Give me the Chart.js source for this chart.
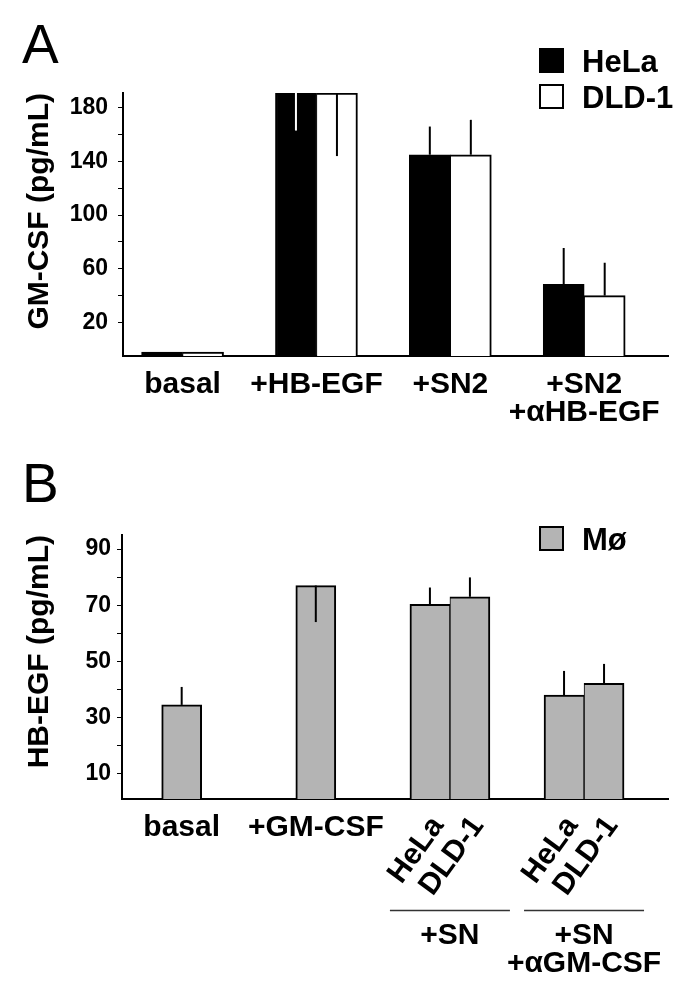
<!DOCTYPE html>
<html>
<head>
<meta charset="utf-8">
<script src="https://cdn.jsdelivr.net/npm/chart.js@4.4.1/dist/chart.umd.min.js"></script>
<style>
  body { margin: 0; background: #fff; width: 685px; height: 991px; position: relative; overflow: hidden; }
  canvas { position: absolute; left: 0; }
  #chartA { top: 0; }
  #chartB { top: 455px; }
</style>
</head>
<body>
<canvas id="chartA" width="685" height="455"></canvas>
<canvas id="chartB" width="685" height="536"></canvas>
<script>
// Panel A: GM-CSF from tumour cells
const groupX = [0, 1, 2, 3];
const groupsA = ["basal", "+HB-EGF", "+SN2", ["+SN2", "+αHB-EGF"]];
const helaA = [-2, 191, 145, 48.5];
const helaErrA = [0, -28, 21, 27];      // negative = line drawn down into the bar
const dldA = [-2, 191, 145, 40];
const dldErrA = [0, -47, 26, 24.5];
const yTicksA = [20, 40, 60, 80, 100, 120, 140, 160, 180];
const yLabelsA = [20, 60, 100, 140, 180];

// Panel B: HB-EGF from macrophages
const groupsB = ["basal", "+GM-CSF", "", ""];
const cellsB = ["HeLa", "DLD-1"];
const supernatantB = [null, null, ["+SN"], ["+SN", "+αGM-CSF"]];
const mphLeft = [34.5, 77, 70.3, 38];
const mphLeftErr = [6.4, -13, 6, 8.6];
const mphRight = [null, null, 73, 42.2];
const mphRightErr = [null, null, 6.9, 6.9];
const yTicksB = [10, 20, 30, 40, 50, 60, 70, 80, 90];
const yLabelsB = [10, 30, 50, 70, 90];

const FONT = '"Liberation Sans", Arial, Helvetica, sans-serif';
Chart.defaults.font.family = FONT;
Chart.defaults.color = "#000";

const points = vals => groupX.map((x, i) => ({ x: x, y: vals[i] }));

// thinner inner edge where two bars touch
const leftBorder = partner => ctx => ({ top: 2, left: 2, bottom: 0, right: partner[ctx.dataIndex] == null ? 2 : 1 });
const rightBorder = { top: 2, left: 1, bottom: 0, right: 2 };

// error bars, no caps
const errorBars = {
  id: "errorBars",
  afterDatasetsDraw(chart) {
    const ctx = chart.ctx;
    const y = chart.scales.y;
    chart.data.datasets.forEach((ds, i) => {
      if (!ds.errors) return;
      chart.getDatasetMeta(i).data.forEach((bar, j) => {
        const v = ds.data[j].y, e = ds.errors[j];
        if (v == null || !e) return;
        ctx.save();
        ctx.strokeStyle = e < 0 ? ds.innerErrColor : "#000";
        ctx.lineWidth = 2;
        ctx.beginPath();
        ctx.moveTo(bar.x, y.getPixelForValue(v));
        ctx.lineTo(bar.x, y.getPixelForValue(v + e));
        ctx.stroke();
        ctx.restore();
      });
    });
  }
};

function legendItem(ctx, ds, top, text) {
  ctx.fillStyle = ds.backgroundColor;
  ctx.fillRect(540, top, 23, 23);
  ctx.strokeStyle = "#000";
  ctx.lineWidth = 2;
  ctx.strokeRect(540, top, 23, 23);
  ctx.fillStyle = "#000";
  ctx.font = "bold 31px " + FONT;
  ctx.textAlign = "left";
  ctx.textBaseline = "alphabetic";
  ctx.fillText(text, 582, top + 23);
}

function letter(ctx, txt, baseline) {
  ctx.fillStyle = "#000";
  ctx.font = "55px " + FONT;
  ctx.textAlign = "left";
  ctx.textBaseline = "alphabetic";
  ctx.fillText(txt, 22, baseline);
}

const decorA = {
  id: "decorA",
  afterDraw(chart) {
    const ctx = chart.ctx;
    ctx.save();
    letter(ctx, "A", 63);
    legendItem(ctx, chart.data.datasets[0], 49, chart.data.datasets[0].label);
    legendItem(ctx, chart.data.datasets[1], 85, chart.data.datasets[1].label);
    ctx.restore();
  }
};

const decorB = {
  id: "decorB",
  afterDraw(chart) {
    const ctx = chart.ctx;
    const bottom = chart.chartArea.bottom;
    const left = chart.getDatasetMeta(0).data;
    const right = chart.getDatasetMeta(1).data;
    ctx.save();
    letter(ctx, "B", 47);
    legendItem(ctx, chart.data.datasets[0], 72, chart.data.datasets[0].label);

    ctx.fillStyle = "#000";
    ctx.font = "bold 30px " + FONT;
    supernatantB.forEach((lines, j) => {
      if (!lines) return;
      [left[j], right[j]].forEach((bar, k) => {
        ctx.save();
        ctx.translate(bar.x + 8, bottom + 21.5);
        ctx.rotate(-54 * Math.PI / 180);
        ctx.textAlign = "right";
        ctx.textBaseline = "middle";
        ctx.fillText(cellsB[k], 0, 0);
        ctx.restore();
      });
      const cx = (left[j].x + right[j].x) / 2;
      ctx.strokeStyle = "#333";
      ctx.lineWidth = 1.5;
      ctx.beginPath();
      ctx.moveTo(cx - 60, bottom + 111.5);
      ctx.lineTo(cx + 60, bottom + 111.5);
      ctx.stroke();
      ctx.textAlign = "center";
      ctx.textBaseline = "alphabetic";
      lines.forEach((t, n) => ctx.fillText(t, cx, bottom + 144.5 + n * 28.5));
    });
    ctx.restore();
  }
};

function xScale(labels, height) {
  return {
    type: "linear",
    offset: false,
    min: -0.445,
    max: 3.626,
    afterBuildTicks: axis => { axis.ticks = groupX.map(v => ({ value: v })); },
    afterFit: axis => { axis.height = height; },
    ticks: {
      callback: v => labels[v],
      autoSkip: false, maxRotation: 0, minRotation: 0,
      font: { size: 30, weight: "bold", lineHeight: 0.95 },
      padding: 14
    },
    grid: { display: false, drawTicks: false },
    border: { display: true, color: "#000", width: 2 }
  };
}

function yScale(min, max, ticks, labels, title, width, pad) {
  return {
    min: min,
    max: max,
    afterBuildTicks: axis => { axis.ticks = ticks.map(v => ({ value: v })); },
    afterFit: axis => { axis.width = width; },
    ticks: {
      callback: v => labels.includes(v) ? String(v) : "",
      font: { size: 23, weight: "bold" },
      padding: pad
    },
    grid: { drawOnChartArea: false, drawTicks: true, tickLength: 5, color: "#000", lineWidth: 1 },
    border: { display: true, color: "#000", width: 2 },
    title: {
      display: true, text: title, align: "end",
      font: { size: 30, weight: "bold" },
      padding: { top: 22, bottom: 0 }
    }
  };
}

const common = {
  responsive: false,
  animation: false,
  devicePixelRatio: 1,
  plugins: { legend: { display: false }, tooltip: { enabled: false } }
};

new Chart(document.getElementById("chartA"), {
  type: "bar",
  data: {
    datasets: [
      { label: "HeLa", data: points(helaA), errors: helaErrA, innerErrColor: "#fff",
        backgroundColor: "#000", borderColor: "#000", borderWidth: leftBorder(dldA), base: -5,
        barThickness: 41, skipNull: true },
      { label: "DLD-1", data: points(dldA), errors: dldErrA, innerErrColor: "#000",
        backgroundColor: "#fff", borderColor: "#000", borderWidth: rightBorder, base: -5,
        barThickness: 41, skipNull: true }
    ]
  },
  options: Object.assign({}, common, {
    layout: { padding: { top: 93, right: 17, left: 0, bottom: 0 } },
    scales: {
      x: xScale(groupsA, 99),
      y: yScale(-5, 191, yTicksA, yLabelsA, "GM-CSF (pg/mL)", 123, 10)
    }
  }),
  plugins: [errorBars, decorA]
});

new Chart(document.getElementById("chartB"), {
  type: "bar",
  data: {
    datasets: [
      { label: "Mø", data: points(mphLeft), errors: mphLeftErr, innerErrColor: "#000",
        backgroundColor: "#b4b4b4", borderColor: "#000", borderWidth: leftBorder(mphRight),
        barThickness: 40, skipNull: true },
      { label: "Mø", data: points(mphRight), errors: mphRightErr, innerErrColor: "#000",
        backgroundColor: "#b4b4b4", borderColor: "#000", borderWidth: rightBorder,
        barThickness: 40, skipNull: true }
    ]
  },
  options: Object.assign({}, common, {
    layout: { padding: { top: 80, right: 17, left: 0, bottom: 0 } },
    scales: {
      x: xScale(groupsB, 192),
      y: yScale(1, 95, yTicksB, yLabelsB, "HB-EGF (pg/mL)", 122, 6)
    }
  }),
  plugins: [errorBars, decorB]
});
</script>
</body>
</html>
